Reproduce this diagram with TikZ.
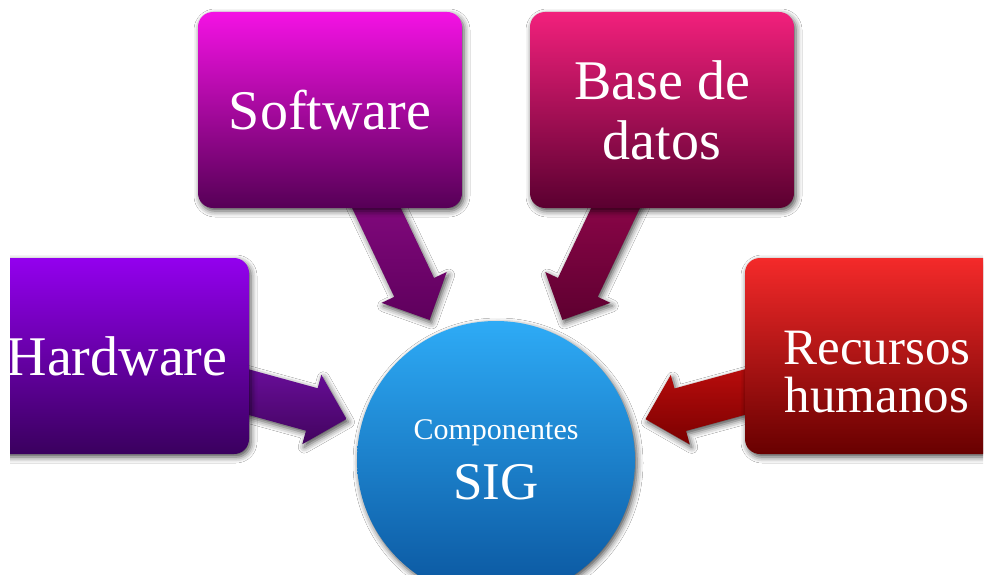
\documentclass[tikz,border=0pt]{standalone}
\usepackage{fontspec}
\setmainfont{Liberation Serif}
\usetikzlibrary{calc, shadows.blur}
\definecolor{hwtop}{HTML}{9300EE}
\definecolor{hwbot}{HTML}{3A005E}
\definecolor{swtop}{HTML}{F412E4}
\definecolor{swbot}{HTML}{560056}
\definecolor{dbtop}{HTML}{F2207C}
\definecolor{dbbot}{HTML}{5A0030}
\definecolor{rhtop}{HTML}{F42A2A}
\definecolor{rhbot}{HTML}{680000}
\definecolor{sigtop}{HTML}{2EABF6}
\definecolor{sigbot}{HTML}{0A559E}
% arrow shades
\definecolor{hwarrA}{HTML}{7A12B4}
\definecolor{hwarrB}{HTML}{42045E}
\definecolor{swarrA}{HTML}{A0109A}
\definecolor{swarrB}{HTML}{5E005C}
\definecolor{dbarrA}{HTML}{B00A5C}
\definecolor{dbarrB}{HTML}{5E0030}
\definecolor{rharrA}{HTML}{D41212}
\definecolor{rharrB}{HTML}{7A0000}

\pgfdeclarelayer{links}
\pgfsetlayers{links,main}

\tikzset{
    softshadow/.style={blur shadow={shadow xshift=2pt, shadow yshift=-3pt,
        shadow blur radius=6pt, shadow opacity=70}},
    compbox/.style={rectangle, rounded corners=15pt, minimum width=264pt,
        minimum height=196pt, inner sep=0pt, align=center, text=white,
        font=\fontsize{56}{60}\selectfont, softshadow},
    sigdisc/.style={circle, minimum size=278pt, inner sep=0pt, align=center,
        text=white, top color=sigtop, bottom color=sigbot,
        font=\fontsize{53}{60}\selectfont, softshadow}
}

\begin{document}
\begin{tikzpicture}[x=1pt, y=-1pt]
    \useasboundingbox (0,0) rectangle (985,575);

    \begin{scope}
        \clip (10,0) rectangle (983,575);
        % the four components
        \node[compbox, top color=hwtop, bottom color=hwbot] (hw) at (117,356) {Hardware};
        \node[compbox, top color=swtop, bottom color=swbot] (sw) at (330,110) {Software};
        \node[compbox, top color=dbtop, bottom color=dbbot] (db) at (662,110) {Base de\\datos};
        \node[compbox, top color=rhtop, bottom color=rhbot, text height=114pt,
              font=\fontsize{51}{48}\selectfont] (rh) at (877,356) {Recursos\\humanos};
        % centre disc
        \node[sigdisc] (sig) at (496,460) {{\fontsize{30}{36}\selectfont Componentes}\\SIG};
    \end{scope}

    % fat arrows behind the boxes, box centre -> disc
    \begin{pgfonlayer}{links}
        \fill[white] (0,0) rectangle (985,575);
        \foreach \src/\ca/\cb in {hw/hwarrA/hwarrB, sw/swarrA/swarrB,
                                  db/dbarrA/dbarrB, rh/rharrA/rharrB} {
            \coordinate (tip) at ($(sig.center)!155pt!(\src.center)$);
            \coordinate (hb) at ($(tip)!36pt!(\src.center)$);
            \shade[top color=\ca, bottom color=\cb, softshadow]
                ($(\src.center)!22pt!90:(tip)$) -- ($(hb)!22pt!90:(tip)$)
                -- ($(hb)!36pt!90:(tip)$) -- (tip) -- ($(hb)!36pt!-90:(tip)$)
                -- ($(hb)!22pt!-90:(tip)$) -- ($(\src.center)!22pt!-90:(tip)$) -- cycle;
        }
    \end{pgfonlayer}
\end{tikzpicture}
\end{document}
